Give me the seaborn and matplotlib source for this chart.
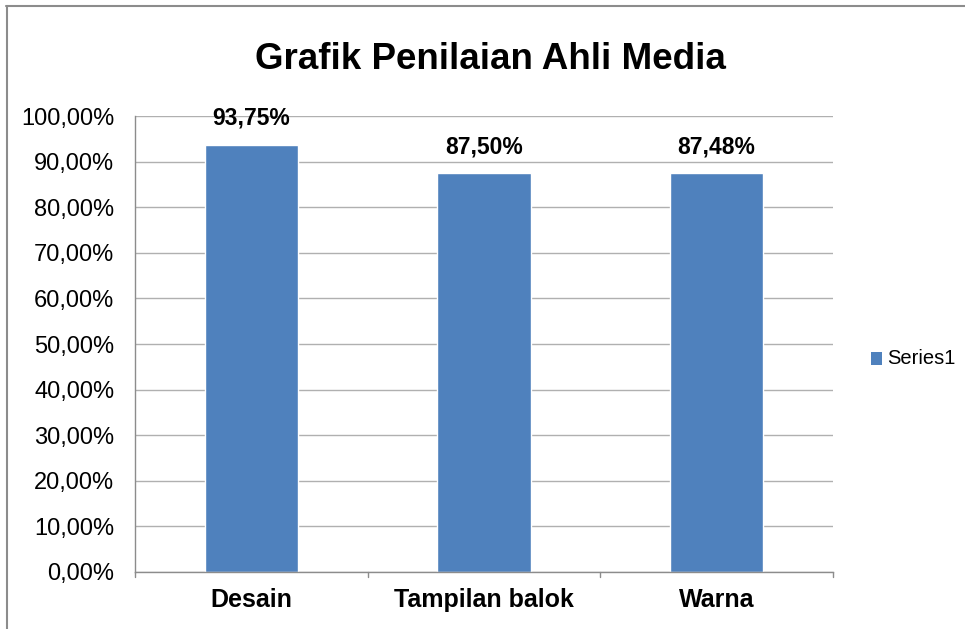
import matplotlib
matplotlib.use("Agg")
import matplotlib.pyplot as plt
from matplotlib.lines import Line2D
from matplotlib.patches import Rectangle
import seaborn as sns
import pandas as pd

categories = ["Desain", "Tampilan balok", "Warna"]
values = [93.75, 87.50, 87.48]
series_name = "Series1"
y_ticks = [0, 10, 20, 30, 40, 50, 60, 70, 80, 90, 100]
title = "Grafik Penilaian Ahli Media"

sns.set_theme(style="white")
plt.rcParams["font.family"] = ["Liberation Sans", "DejaVu Sans"]
plt.rcParams["text.color"] = "black"
plt.rcParams["xtick.color"] = "black"
plt.rcParams["ytick.color"] = "black"

df = pd.DataFrame({"Kategori": categories, "Nilai": values, "Seri": [series_name] * len(categories)})

fig = plt.figure(figsize=(9.65, 6.29), dpi=100)
ax = fig.add_axes([0.1399, 0.0914, 0.8632 - 0.1399, 0.8148 - 0.0914])

bar_color = "#4F81BD"
sns.barplot(data=df, x="Kategori", y="Nilai", hue="Seri", palette=[bar_color],
            width=0.4, ax=ax, legend=False, saturation=1)

ax.set_ylim(0, 100)
ax.set_xlim(-0.5, len(categories) - 0.5)
ax.set_yticks(y_ticks)
ax.set_yticklabels([f"{t:.2f}".replace(".", ",") + "%" for t in y_ticks], fontsize=17)
ax.set_xlabel("")
ax.set_ylabel("")
ax.grid(axis="y", color="#B0B0B0", linewidth=1)
ax.set_axisbelow(True)
for s in ["top", "right"]:
    ax.spines[s].set_visible(False)
for s in ["left", "bottom"]:
    ax.spines[s].set_color("#8C8C8C")
    ax.spines[s].set_linewidth(1)

ax.set_xticks(range(len(categories)))
ax.set_xticklabels(categories, fontsize=18, fontweight="bold")
ax.tick_params(axis="x", length=0, pad=12)
ax.tick_params(axis="y", length=0, pad=15)
for b in [i + 0.5 for i in range(len(categories))]:
    ax.plot([b, b], [0, -1.2], color="#8C8C8C", lw=1, clip_on=False)
ax.plot([-0.5, -0.5], [0, -1.2], color="#8C8C8C", lw=1, clip_on=False)

for container in ax.containers:
    ax.bar_label(container, labels=[f"{v:.2f}".replace(".", ",") + "%" for v in values],
                 padding=11, fontsize=16.5, fontweight="bold")

fig.text(0.508, 0.905, title, ha="center", va="center", fontsize=26.5, fontweight="bold")

# legend
fig.add_artist(Rectangle((871 / 965, 1 - 365 / 629), 11 / 965, 13 / 629,
                         transform=fig.transFigure, facecolor=bar_color, edgecolor="none"))
fig.text(887 / 965, 1 - 358 / 629, series_name, ha="left", va="center", fontsize=14.5)

# chart border (top and left visible in reference)
fig.add_artist(Line2D([0.006, 1.0], [0.991, 0.991], transform=fig.transFigure, color="#8C8C8C", lw=1.5))
fig.add_artist(Line2D([0.007, 0.007], [0.0, 0.991], transform=fig.transFigure, color="#8C8C8C", lw=1.5))

fig.savefig("out.png", dpi=100)
